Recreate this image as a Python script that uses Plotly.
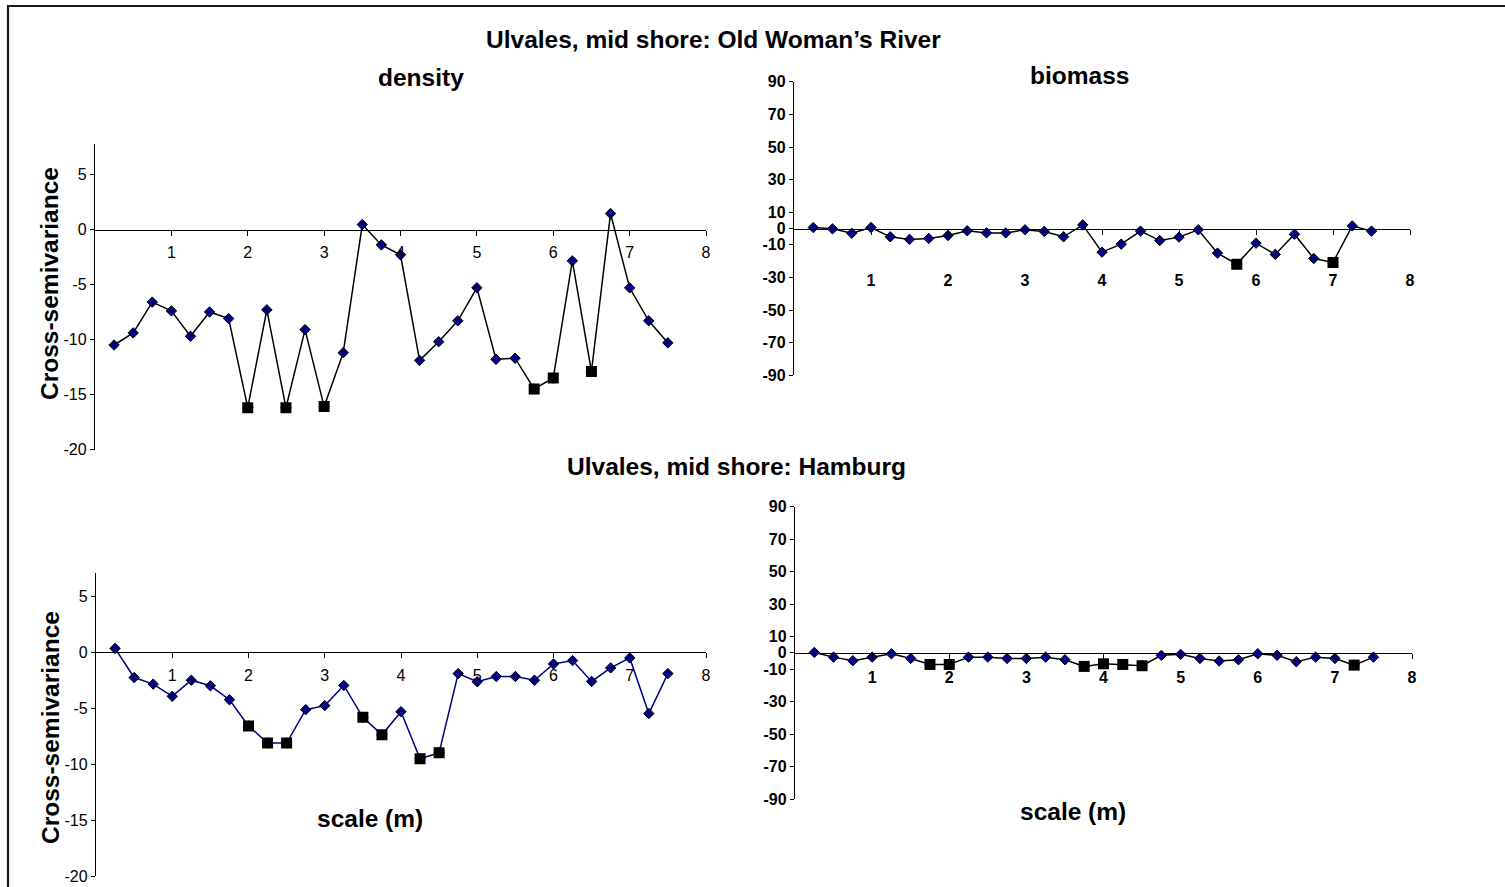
import plotly.graph_objects as go

# Lag distances (m)
lags = [0.25, 0.5, 0.75, 1.0, 1.25, 1.5, 1.75, 2.0, 2.25, 2.5,
        2.75, 3.0, 3.25, 3.5, 3.75, 4.0, 4.25, 4.5, 4.75, 5.0,
        5.25, 5.5, 5.75, 6.0, 6.25, 6.5, 6.75, 7.0, 7.25, 7.5]

# Old Woman's River – cross-semivariance
owr_density = [-10.5, -9.4, -6.6, -7.4, -9.7, -7.5, -8.1, -16.2, -7.3, -16.2,
               -9.1, -16.1, -11.2, 0.45, -1.4, -2.3, -11.9, -10.2, -8.3, -5.3,
               -11.8, -11.7, -14.5, -13.5, -2.85, -12.9, 1.45, -5.3, -8.3, -10.3]
owr_biomass = [0.6, -0.2, -2.9, 0.6, -5.1, -6.7, -6.1, -4.3, -1.4, -2.7,
               -2.7, -0.8, -1.8, -5.1, 2.2, -14.5, -9.6, -1.6, -7.4, -5.3,
               -0.8, -15.1, -21.9, -9.0, -15.9, -3.5, -18.4, -20.8, 1.6, -1.6]

# Hamburg – cross-semivariance
ham_density = [0.35, -2.25, -2.84, -3.93, -2.49, -2.99, -4.23, -6.57, -8.1, -8.1,
               -5.12, -4.76, -2.96, -5.8, -7.37, -5.3, -9.5, -8.96, -1.9, -2.63,
               -2.16, -2.16, -2.49, -1.04, -0.74, -2.6, -1.39, -0.5, -5.47, -1.9]
ham_biomass = [0.2, -2.7, -4.9, -2.7, -0.6, -3.5, -7.2, -7.2, -2.7, -2.7,
               -3.5, -3.5, -2.7, -4.3, -8.4, -6.8, -7.2, -8.0, -1.6, -1.0,
               -3.5, -5.1, -4.3, -0.6, -1.6, -5.5, -2.7, -3.5, -7.6, -2.7]

# Lags with significant values (square markers)
owr_density_sig = [2.0, 2.5, 3.0, 5.75, 6.0, 6.5]
owr_biomass_sig = [5.75, 7.0]
ham_density_sig = [2.0, 2.25, 2.5, 3.5, 3.75, 4.25, 4.5]
ham_biomass_sig = [1.75, 2.0, 3.75, 4.0, 4.25, 4.5, 7.25]

x_ticks = [1, 2, 3, 4, 5, 6, 7, 8]
density_yticks = [-20, -15, -10, -5, 0, 5]
biomass_yticks = [-90, -70, -50, -30, -10, 0, 10, 30, 50, 70, 90]

W, H = 1505, 887
FONT = "Arial, Liberation Sans, sans-serif"
NAVY = "#000080"


def fx(px):
    return px / W


def fy(py):
    return 1 - py / H


panels = [
    dict(v=owr_density, sig=owr_density_sig, lc="black", xp=(95, 706), yp=(449.5, 143.7),
         yr=(-20, 7.8), zero=229.5, yt=density_yticks, bold=False, size=16, so=3),
    dict(v=owr_biomass, sig=owr_biomass_sig, lc="black", xp=(794, 1410), yp=(375.2, 81.8),
         yr=(-90, 90), zero=228.5, yt=biomass_yticks, bold=True, size=16, so=32),
    dict(v=ham_density, sig=ham_density_sig, lc=NAVY, xp=(96, 706), yp=(876.3, 572.8),
         yr=(-20, 7.1), zero=652.3, yt=density_yticks, bold=False, size=16, so=3),
    dict(v=ham_biomass, sig=ham_biomass_sig, lc="black", xp=(795, 1412), yp=(799.0, 506.5),
         yr=(-90, 90), zero=652.8, yt=biomass_yticks, bold=True, size=16, so=5),
]

fig = go.Figure()
layout = {}
for i, p in enumerate(panels, start=1):
    xa = "x" if i == 1 else f"x{i}"
    ya = "y" if i == 1 else f"y{i}"
    fig.add_trace(go.Scatter(
        x=lags, y=p["v"], xaxis=xa, yaxis=ya, mode="lines+markers",
        line=dict(color=p["lc"], width=1.5),
        marker=dict(symbol="diamond", size=8, color=NAVY, line=dict(color="black", width=1)),
        showlegend=False, hoverinfo="x+y"))
    sig_y = [p["v"][lags.index(s)] for s in p["sig"]]
    fig.add_trace(go.Scatter(
        x=p["sig"], y=sig_y, xaxis=xa, yaxis=ya, mode="markers",
        marker=dict(symbol="square", size=11, color="black"),
        showlegend=False, hoverinfo="x+y"))

    tick_font = dict(family=FONT, size=p["size"], color="black",
                     weight="bold" if p["bold"] else "normal")
    layout["xaxis" if i == 1 else f"xaxis{i}"] = dict(
        domain=[fx(p["xp"][0]), fx(p["xp"][1])], range=[0, 8], anchor="free",
        position=fy(p["zero"]), showline=True, linecolor="black", linewidth=1.3,
        ticks="outside", ticklen=5, tickcolor="black", tickwidth=1.3,
        tickvals=x_ticks, ticktext=[str(t) for t in x_ticks],
        showgrid=False, zeroline=False, tickfont=tick_font,
        ticklabelstandoff=p["so"], fixedrange=True)
    layout["yaxis" if i == 1 else f"yaxis{i}"] = dict(
        domain=[fy(p["yp"][0]), fy(p["yp"][1])], range=list(p["yr"]), anchor=xa,
        showline=True, linecolor="black", linewidth=1.3,
        ticks="outside", ticklen=4, tickcolor="black", tickwidth=1.3,
        tickvals=p["yt"], ticktext=[str(t) for t in p["yt"]],
        showgrid=False, zeroline=False, tickfont=tick_font,
        fixedrange=True)

title_font = dict(family=FONT, size=24.5, color="black", weight="bold")


def label(text, px, py, angle=0):
    return dict(text=text, x=fx(px), y=fy(py), xref="paper", yref="paper",
                xanchor="center", yanchor="middle", showarrow=False,
                textangle=angle, font=title_font)


annotations = [
    label("Ulvales, mid shore: Old Woman\u2019s River", 713, 40),
    label("density", 421, 77),
    label("biomass", 1079, 75),
    label("Ulvales, mid shore: Hamburg", 736, 466),
    label("scale (m)", 370, 818),
    label("scale (m)", 1073, 811),
    label("Cross-semivariance", 50, 284, -90),
    label("Cross-semivariance", 50, 728, -90),
]

# Outer frame of the chart area
shapes = [dict(type="rect", xref="paper", yref="paper",
               x0=fx(8), x1=fx(1530), y0=fy(910), y1=fy(6),
               line=dict(color="#1a1a1a", width=2.2), fillcolor="rgba(0,0,0,0)")]

fig.update_layout(
    width=W, height=H, margin=dict(l=0, r=0, t=0, b=0, pad=0, autoexpand=False),
    autosize=False, paper_bgcolor="white", plot_bgcolor="white",
    annotations=annotations, shapes=shapes, **layout)

fig.write_html(
    "out.html",
    config={"displayModeBar": False, "responsive": False},
    post_script="document.body.style.margin='0';document.body.style.overflow='hidden';",
)
